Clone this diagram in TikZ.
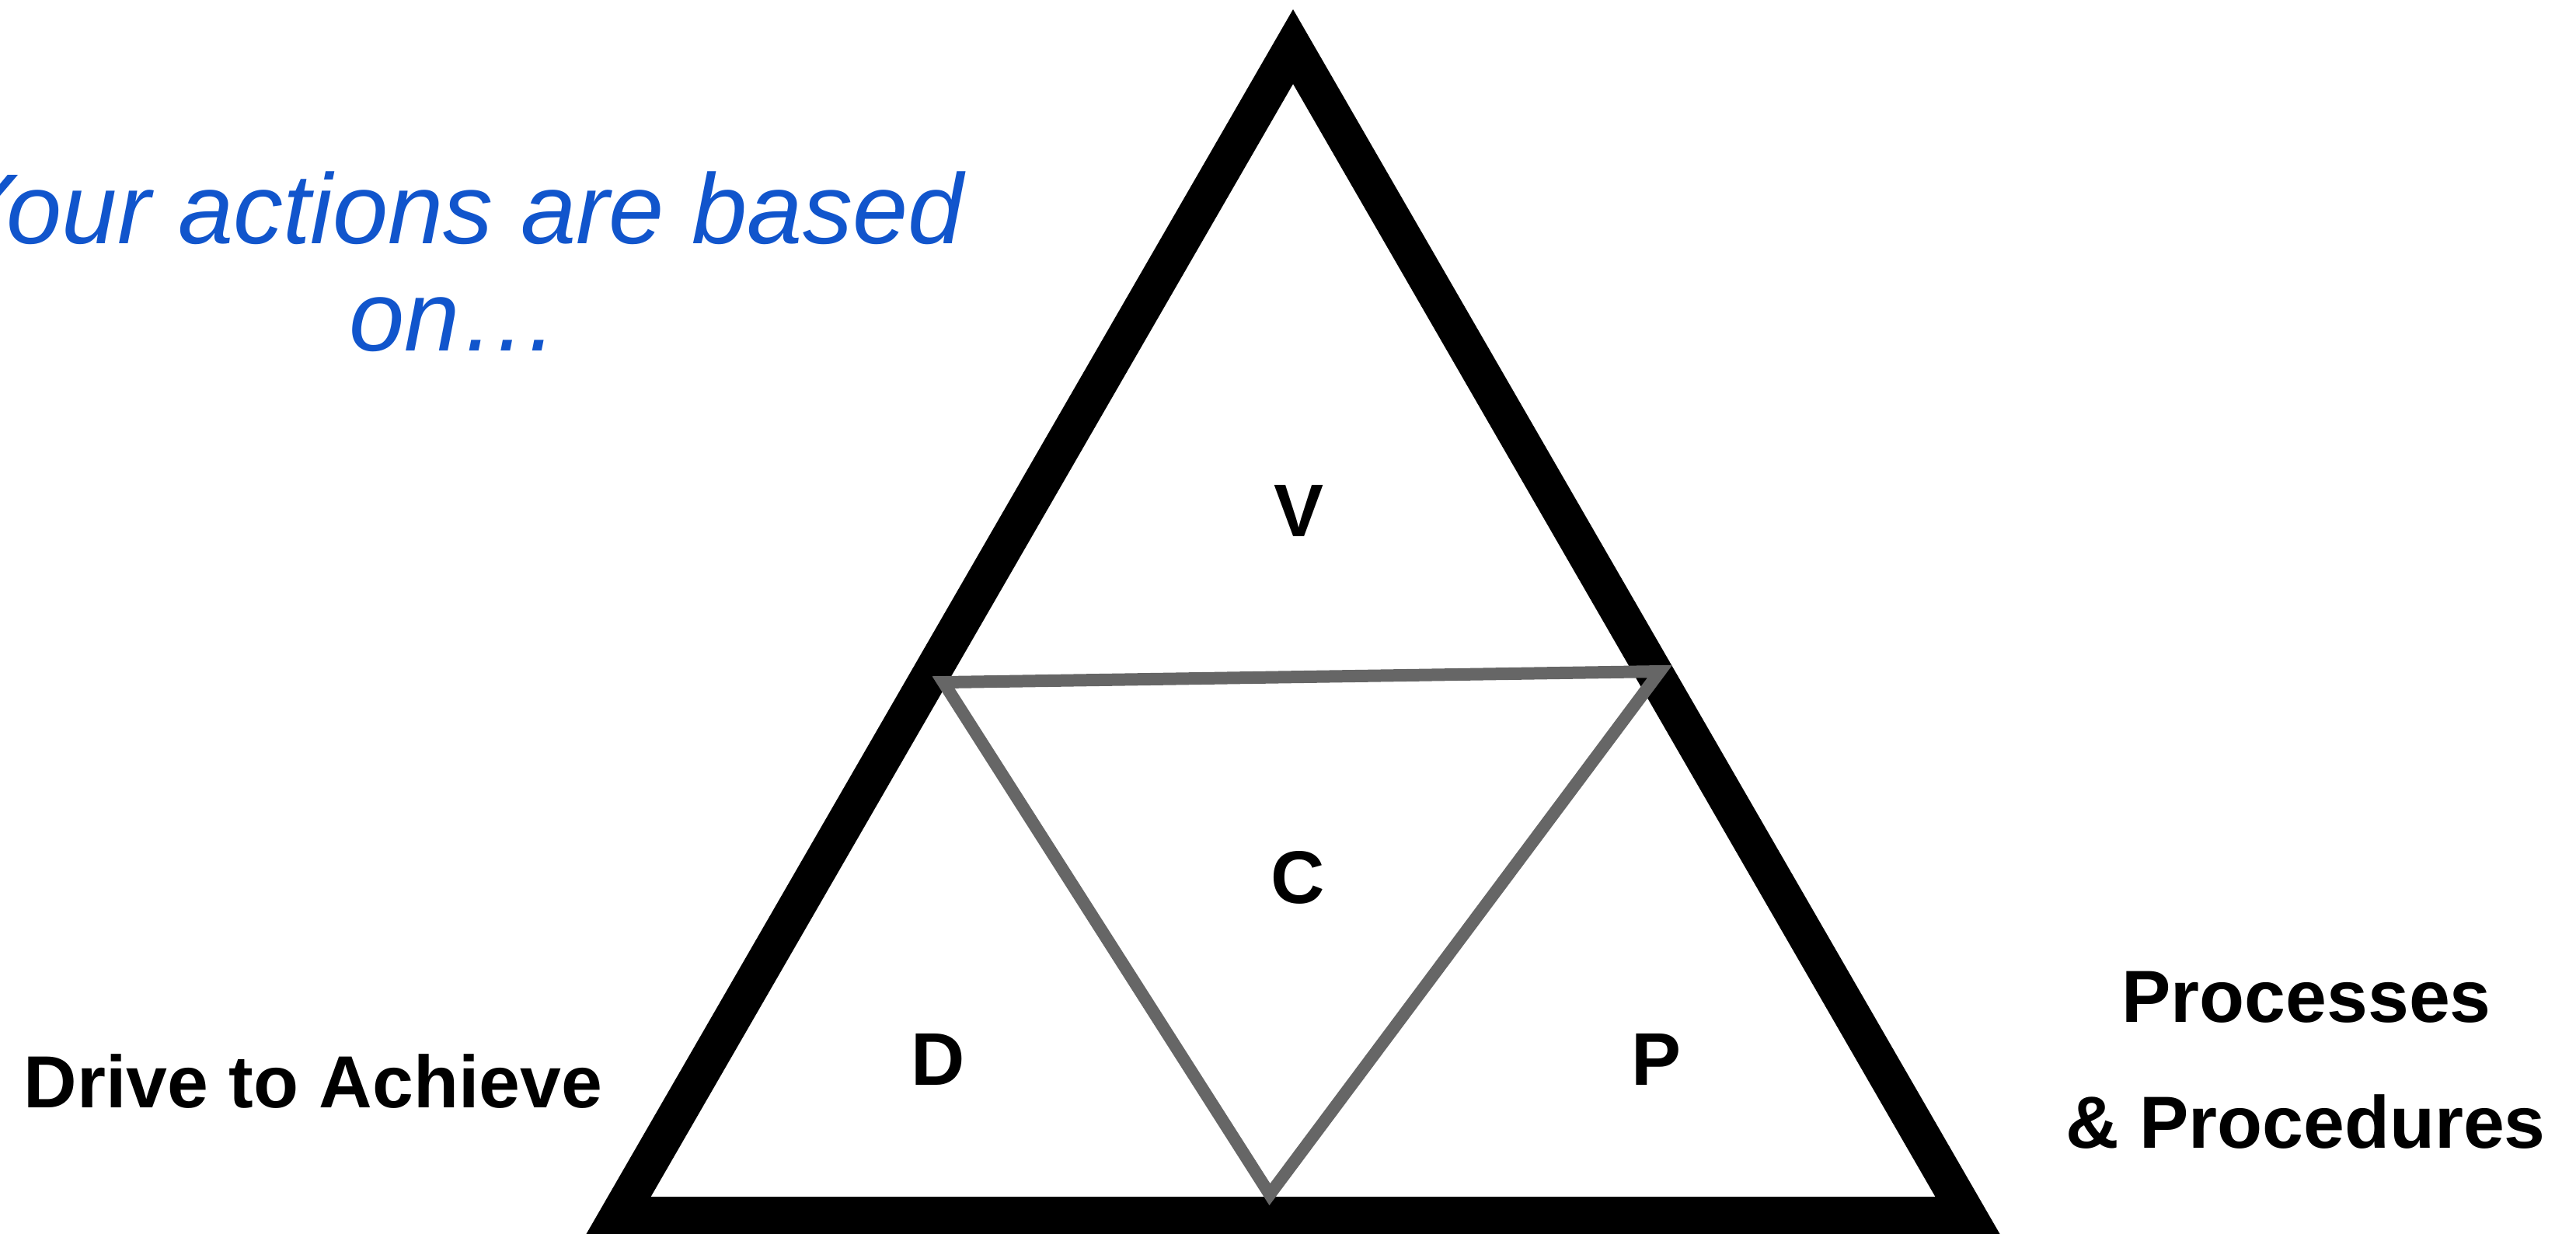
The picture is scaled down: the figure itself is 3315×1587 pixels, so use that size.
\documentclass[tikz,border=0pt]{standalone}
\usepackage{fontspec}
\setmainfont{Liberation Sans}
\definecolor{txtblue}{HTML}{1155CC}
\definecolor{linegray}{HTML}{666666}
\begin{document}
\begin{tikzpicture}[x=0.1pt,y=-0.1pt,
  outertri/.style={line width=4.8pt,line join=miter,draw=black},
  innertri/.style={line width=1.6pt,line join=miter,draw=linegray},
  letter/.style={font=\fontsize{9.6pt}{11pt}\selectfont\bfseries,inner sep=0pt,anchor=base},
  side/.style={font=\fontsize{9.5pt}{11pt}\selectfont\bfseries,inner sep=0pt,anchor=base},
  note/.style={font=\fontsize{12.8pt}{14pt}\selectfont\itshape,text=txtblue,inner sep=0pt,anchor=base}]
\useasboundingbox (0,0) rectangle (3315,1587);
% outer triangle
\coordinate (A) at (1664,60);
\coordinate (BL) at (796,1564);
\coordinate (BR) at (2532,1564);
\draw[outertri] (A) -- (BL) -- (BR) -- cycle;
% inner gray triangle
\coordinate (L) at (1214,878);
\coordinate (R) at (2136,864);
\coordinate (B) at (1634,1537);
\draw[innertri] (L) -- (R) -- (B) -- cycle;
% letters
\node[letter] (v) at (1671,690) {V};
\node[letter] (c) at (1670,1162) {C};
\node[letter] (d) at (1207,1396) {D};
\node[letter] (p) at (2131,1396) {P};
% side labels
\node[side] (drive) at (403,1425) {Drive to Achieve};
\node[side] (proc1) at (2968,1315) {Processes};
\node[side] (proc2) at (2967,1477) {\& Procedures};
% note
\node[note] (note1) at (585,313) {Your actions are based};
\node[note] (note2) at (585,451) {on…};
\end{tikzpicture}
\end{document}
